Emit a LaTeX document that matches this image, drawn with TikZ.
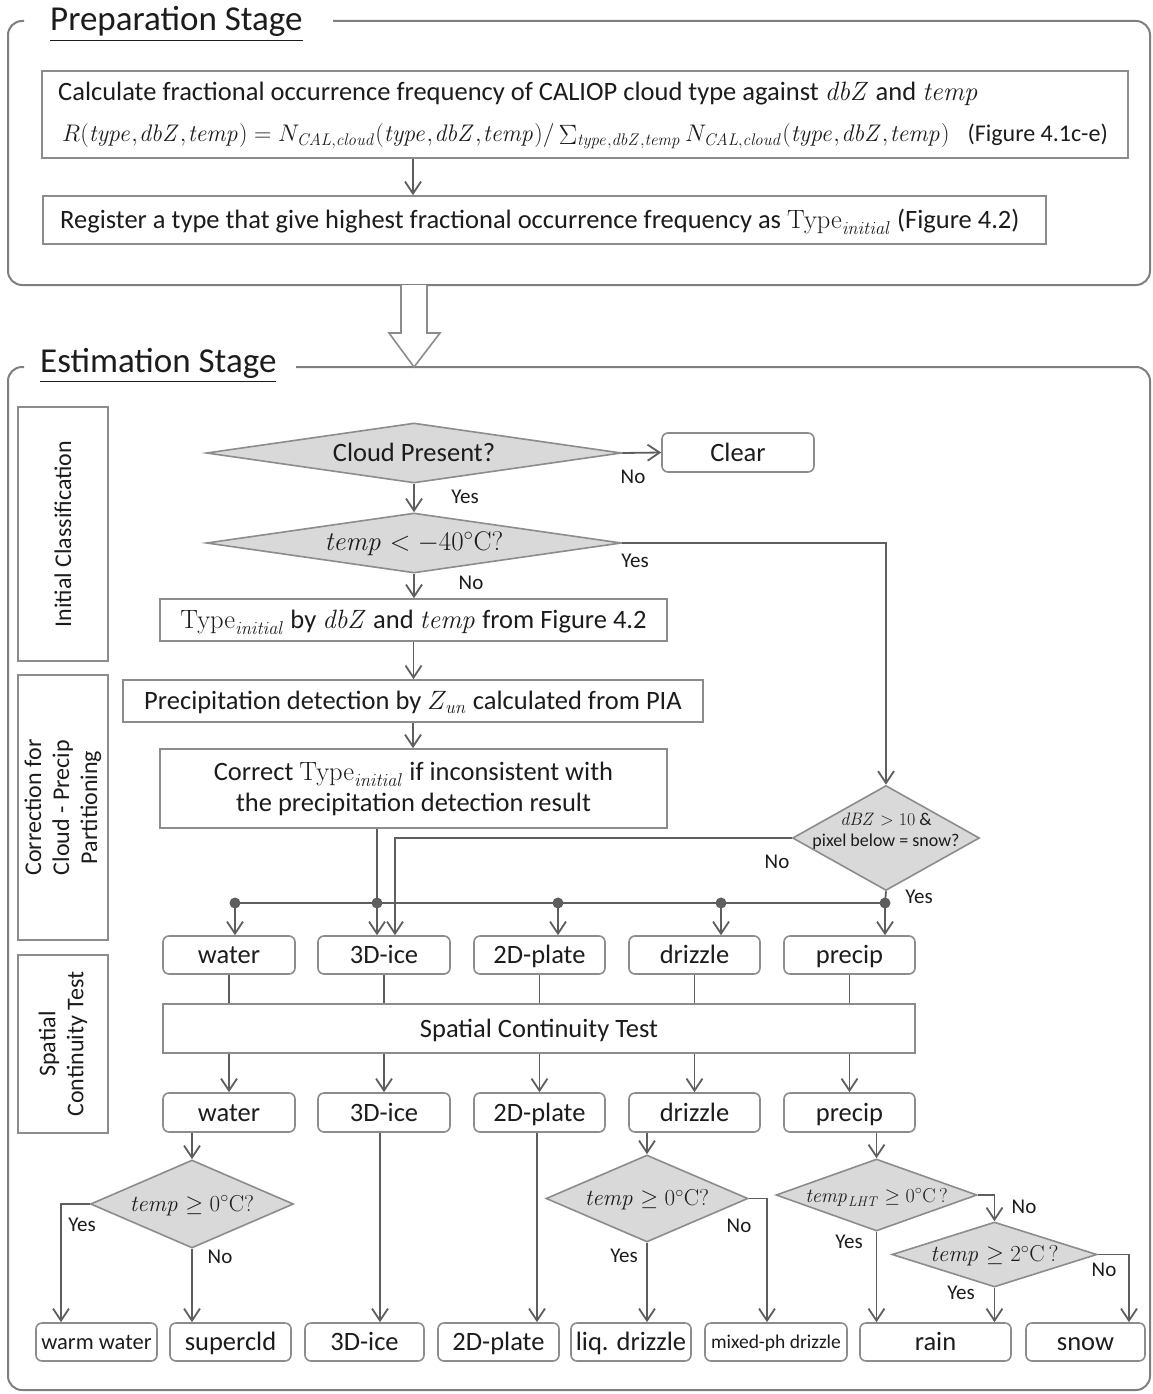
\RequirePackage{fix-cm}
\documentclass[tikz,border=0pt]{standalone}
\usepackage{exscale}
\usepackage[no-math]{fontspec}
\setmainfont{Carlito}
\usetikzlibrary{shapes.geometric,arrows.meta}
\definecolor{ln}{HTML}{5E5E5E}
\definecolor{bd}{HTML}{8C8C8C}
\definecolor{fr}{HTML}{7F7F7F}
\definecolor{df}{HTML}{D9D9D9}
\definecolor{tx}{HTML}{1C1C1C}
\newcommand\fsz[2]{\fontsize{#1}{#2}\selectfont}
\newcommand\Tini{\ensuremath{\mathrm{Type}_{\mathit{initial}}}}
\newcommand\mi[1]{\mathit{#1}}
\newcommand\cm{{,}\mskip1mu}
\newcommand\args{(\mi{type}\cm\mi{dbZ}\cm\mi{temp})}
\newcommand\bigsig{\mathop{\hbox{\raisebox{-2pt}{\fsz{28}{28}$\Sigma$}}}\nolimits}
\begin{document}
\begin{tikzpicture}[x=1pt,y=-1pt,
 box/.style={draw=bd,line width=1.6pt,fill=white,inner sep=0pt,text=tx,font=\fsz{26.5}{31}},
 one/.style={text height=17pt,text depth=0pt},
 rbox/.style={box,one,rounded corners=6pt},
 dia/.style={diamond,draw=bd,fill=df,line width=1.6pt,inner sep=0pt},
 dtx/.style={text=tx,inner sep=0pt,font=\fsz{26.5}{31},align=center},
 mtx/.style={dtx,text height=14pt,text depth=0pt},
 con/.style={draw=ln,line width=1.8pt},
 arr/.style={con,-{Straight Barb[length=12pt,width=16pt]}},
 yn/.style={text=tx,inner sep=0pt,font=\fsz{21}{24}},
 dot/.style={circle,fill=ln,inner sep=0pt,minimum size=11pt},
 frame/.style={draw=fr,line width=2pt,rounded corners=14pt},
 title/.style={text=tx,inner sep=0pt,anchor=base west,font=\fsz{35}{40}},
 ltx/.style={text=tx,inner sep=0pt,font=\fsz{24}{28},align=center,rotate=90},
 ptx/.style={text=tx,inner sep=0pt,anchor=base west,font=\fsz{26.5}{30}},
]
\useasboundingbox (0,0) rectangle (1153,1394);
\fill[white] (0,0) rectangle (1153,1394);

% ---------- frames ----------
\draw[frame] (24,21) -- (8,21) -- (8,285) -- (1150,285) -- (1150,21) -- (333,21);
\node[title] (tprep) at (50,31) {\underline{Preparation Stage}};
\draw[frame] (24,367) -- (8,367) -- (8,1390) -- (1150,1390) -- (1150,367) -- (296,367);
\node[title] (test) at (40,372) {\underline{Estimation Stage}};

% ---------- x positions ----------
\coordinate (x413) at (413,0);
\coordinate (x377) at (377,0);
\coordinate (x395) at (395,0);
\coordinate (x61) at (61,0);
\coordinate (x380) at (380,0);
\coordinate (x537) at (537,0);
\coordinate (x767) at (767,0);
\coordinate (x1129) at (1129,0);

% ---------- preparation ----------
\node[box,minimum width=1086pt,minimum height=87pt] (p1) at (585,114.5) {};
\node[ptx] (p1a) at (58,101) {Calculate fractional occurrence frequency of CALIOP cloud type against $\mi{dbZ}$ and $\mi{temp}$};
\node[ptx,font=\fsz{24}{28}] (p1b) at (62,142) {$R\args = N_{\mi{CAL},\mi{cloud}}\args/\bigsig_{\mi{type},\mi{dbZ},\mi{temp}}N_{\mi{CAL},\mi{cloud}}\args$};
\node[ptx,anchor=base east,font=\fsz{24}{28}] (p1c) at (1108,142) {(Figure 4.1c-e)};
\node[box,minimum width=1003pt,minimum height=48pt] (p2) at (544.5,220) {};
\node[ptx] (p2a) at (60,228) {Register a type that give highest fractional occurrence frequency as \Tini{} (Figure 4.2)};
\draw[arr] (p1.south -| x413) -- (p2.north -| x413);

% hollow arrow between stages
\draw[draw=bd,line width=1.6pt,fill=white] (401,285) -- (401,333) -- (389,333) -- (414,367) -- (440,333) -- (427,333) -- (427,285);

% ---------- lanes ----------
\node[box,minimum width=90pt,minimum height=254pt] (L1) at (63,534) {};
\node[ltx] (L1t) at (L1) {Initial Classification};
\node[box,minimum width=90pt,minimum height=265pt] (L2) at (63,807.5) {};
\node[ltx] (L2t) at (L2) {Correction for\\Cloud - Precip\\Partitioning};
\node[box,minimum width=90pt,minimum height=178pt] (L3) at (63,1044) {};
\node[ltx] (L3t) at (L3) {Spatial\\Continuity Test};

% ---------- initial classification ----------
\node[dia,minimum width=415pt,minimum height=60pt] (cp) at (414,453) {};
\node[dtx,one] (cpt) at (cp) {Cloud Present?};
\node[rbox,minimum width=152pt,minimum height=39pt] (clear) at (738,452.5) {Clear};
\node[dia,minimum width=415pt,minimum height=60pt] (t40) at (414,543) {};
\node[mtx,font=\fsz{27}{30}] (t40t) at (t40) {$\mi{temp} < -40^{\circ}\mathrm{C}?$};
\node[box,one,minimum width=507pt,minimum height=42pt] (ti) at (413.5,620) {\Tini{} by $\mi{dbZ}$ and $\mi{temp}$ from Figure 4.2};
\node[box,one,minimum width=580pt,minimum height=42pt] (pd) at (413,701) {Precipitation detection by $Z_{\mi{un}}$ calculated from PIA};
\node[box,minimum width=507pt,minimum height=79pt,align=center] (cr) at (413.5,788.5) {Correct \Tini{} if inconsistent with\\the precipitation detection result};
\node[dia,minimum width=187pt,minimum height=105pt] (dbz) at (886,838) {};
\node[dtx,font=\fsz{18}{21}] (dbzt) at (886,831) {$\mi{dBZ} > 10$ \&\\pixel below = snow?};

\draw[arr] (cp.south) -- (cp.south |- t40.north);
\node[yn] (y1) at (465,497) {Yes};
\draw[arr] (cp.east) -- (clear.west);
\node[yn] (n1) at (633,477) {No};
\draw[arr] (t40.south) -- (t40.south |- ti.north);
\node[yn] (n2) at (471,583) {No};
\draw[arr] (t40.east) -| (dbz.north);
\node[yn] (y2) at (635,561) {Yes};
\draw[arr] (ti.south) -- (ti.south |- pd.north);
\draw[arr] (pd.south) -- (pd.south |- cr.north);

% ---------- row 1 ----------
\foreach \n/\x/\w/\t in {w1/229/132/water, i1/384/132/3D-ice, pl1/539.5/131/2D-plate, d1/694.5/131/drizzle, r1/849.5/131/precip}
  \node[rbox,minimum width=\w pt,minimum height=38pt] (\n) at (\x,955) {\t};

\coordinate (b1) at (235,903);
\coordinate (b2) at (377,903);
\coordinate (b3) at (558,903);
\coordinate (b4) at (721,903);
\coordinate (b5) at (885,903);
\draw[con] (b1) -- (b5);
\draw[arr] (cr.south -| x377) -- (i1.north -| x377);
\draw[arr] (dbz.west) -| (i1.north -| x395);
\node[yn] (n3) at (777,862) {No};
\draw[con] (dbz.south) -- (b5);
\node[yn] (y3) at (919,897) {Yes};
\draw[arr] (b1) -- (b1 |- w1.north);
\draw[arr] (b3) -- (b3 |- pl1.north);
\draw[arr] (b4) -- (b4 |- d1.north);
\draw[arr] (b5) -- (b5 |- r1.north);
\foreach \b in {b1,b2,b3,b4,b5} \node[dot] at (\b) {};

% ---------- spatial continuity ----------
\node[box,one,minimum width=752pt,minimum height=49pt] (sct) at (539,1028.5) {Spatial Continuity Test};
\foreach \n/\x/\w/\t in {w2/229/132/water, i2/384/132/3D-ice, pl2/539.5/131/2D-plate, d2/694.5/131/drizzle, r2/849.5/131/precip}
  \node[rbox,minimum width=\w pt,minimum height=39pt] (\n) at (\x,1112.5) {\t};
\foreach \a/\b in {w1/w2, i1/i2, pl1/pl2, d1/d2, r1/r2} {
  \draw[con] (\a.south) -- (\a.south |- sct.north);
  \draw[arr] (\a.south |- sct.south) -- (\b.north);
}

% ---------- final decisions ----------
\node[dia,minimum width=203pt,minimum height=88pt] (wd) at (192,1204) {};
\node[mtx,font=\fsz{23}{27}] (wdt) at (wd) {$\mi{temp} \geq 0^{\circ}\mathrm{C}?$};
\node[dia,minimum width=202pt,minimum height=87pt] (dd) at (647,1198.5) {};
\node[mtx,font=\fsz{23}{27}] (ddt) at (dd) {$\mi{temp} \geq 0^{\circ}\mathrm{C}?$};
\node[dia,minimum width=201pt,minimum height=72pt] (ld) at (876.5,1195) {};
\node[mtx,font=\fsz{20}{24}] (ldt) at (ld) {$\mi{temp}_{\mi{LHT}} \geq 0^{\circ}\mathrm{C}\,?$};
\node[dia,minimum width=205pt,minimum height=65pt] (td) at (994.5,1254.5) {};
\node[mtx,font=\fsz{23}{26}] (tdt) at (td) {$\mi{temp} \geq 2^{\circ}\mathrm{C}\,?$};

\node[rbox,minimum width=121pt,minimum height=38pt,font=\fsz{22.5}{26},text height=15pt] (ww) at (96.5,1342) {warm water};
\node[rbox,minimum width=121pt,minimum height=38pt] (sc) at (230.5,1342) {supercld};
\node[rbox,minimum width=119pt,minimum height=38pt] (ic) at (364.5,1342) {3D-ice};
\node[rbox,minimum width=121pt,minimum height=38pt] (pc) at (498.5,1342) {2D-plate};
\node[rbox,minimum width=120pt,minimum height=38pt] (lq) at (631,1342) {liq. drizzle};
\node[rbox,minimum width=142pt,minimum height=38pt,font=\fsz{19.5}{23},text height=13pt] (mx) at (776,1342) {mixed-ph drizzle};
\node[rbox,minimum width=151pt,minimum height=38pt] (rn) at (935.5,1342) {rain};
\node[rbox,minimum width=119pt,minimum height=38pt] (sn) at (1085.5,1342) {snow};

\draw[arr] (w2.south -| wd.north) -- (wd.north);
\draw[arr] (wd.west) -| (ww.north -| x61);
\node[yn] (y4) at (82,1225) {Yes};
\draw[arr] (wd.south) -- (wd.south |- sc.north);
\node[yn] (n4) at (220,1257) {No};

\draw[arr] (i2.south -| x380) -- (ic.north -| x380);
\draw[arr] (pl2.south -| x537) -- (pc.north -| x537);

\draw[arr] (d2.south -| dd.north) -- (dd.north);
\draw[arr] (dd.south) -- (dd.south |- lq.north);
\node[yn] (y5) at (624,1256) {Yes};
\draw[arr] (dd.east) -| (mx.north -| x767);
\node[yn] (n5) at (739,1226) {No};

\draw[arr] (r2.south -| ld.north) -- (ld.north);
\draw[arr] (ld.south) -- (ld.south |- rn.north);
\node[yn] (y6) at (849,1242) {Yes};
\draw[arr] (ld.east) -| (td.north);
\node[yn] (n6) at (1024,1207) {No};
\draw[arr] (td.south) -- (td.south |- rn.north);
\node[yn] (y7) at (961,1293) {Yes};
\draw[arr] (td.east) -| (sn.north -| x1129);
\node[yn] (n7) at (1104,1270) {No};
\end{tikzpicture}
\end{document}
